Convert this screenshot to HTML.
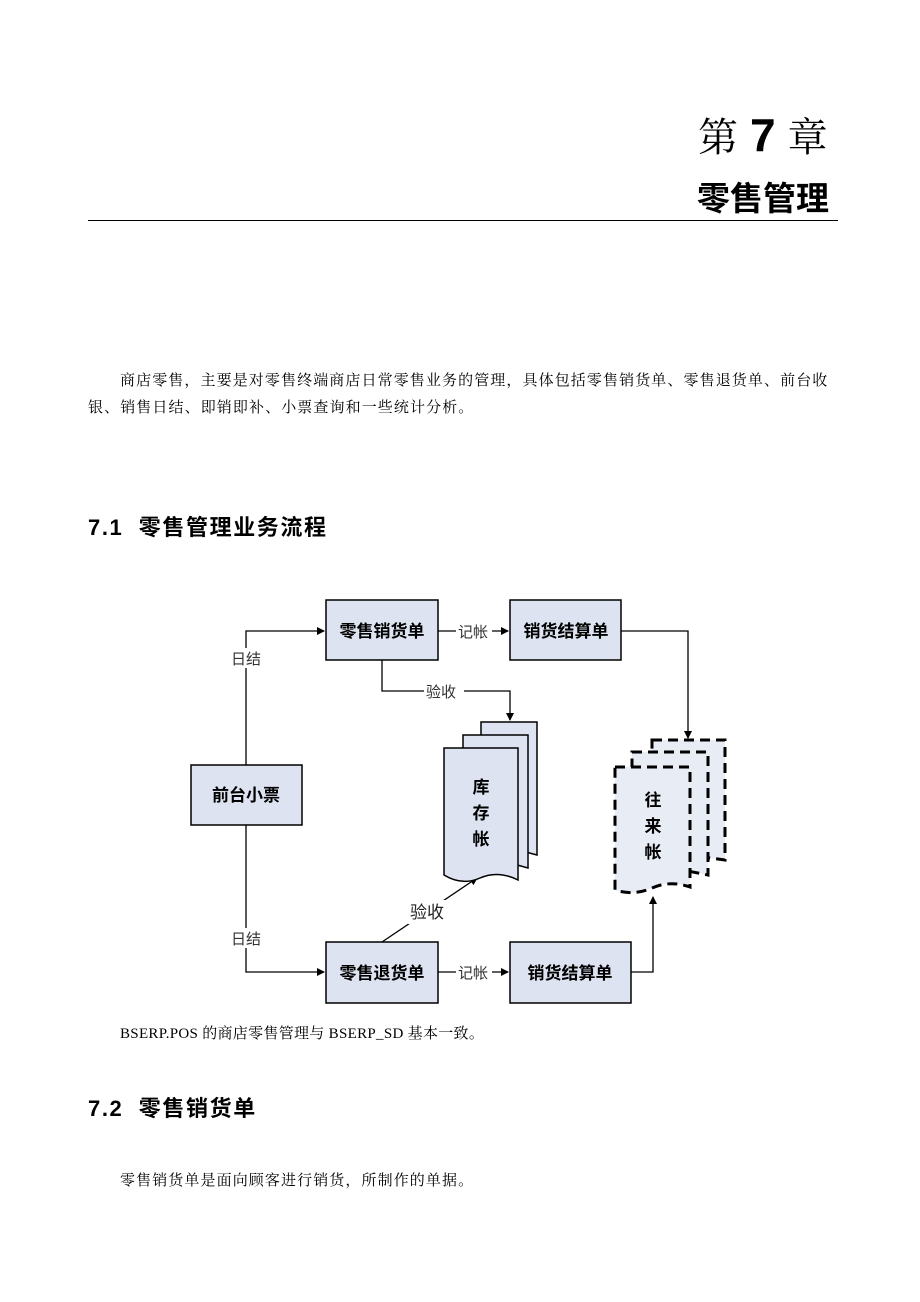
<!DOCTYPE html>
<html><head><meta charset="utf-8"><style>
body{margin:0;background:#fff;width:920px;height:1302px;position:relative;font-family:"Liberation Serif","Noto Serif CJK SC","Noto Sans CJK SC",serif;color:#000}
.a{position:absolute;white-space:nowrap}
.p{font-size:15px;letter-spacing:1.1px}
.h{font-family:"Liberation Sans","Noto Sans CJK SC",sans-serif;font-size:22px;font-weight:bold;letter-spacing:1.6px}
</style></head><body>
<div class="a" style="left:698px;top:106px;font-size:40px;font-family:'Liberation Serif','Noto Serif CJK SC',serif;letter-spacing:1px">第 <b style="font-family:'Liberation Sans',sans-serif;font-size:46px">7</b> 章</div>
<div class="a" style="left:697px;top:172px;font-size:33px;font-weight:bold;font-family:'Liberation Sans','Noto Sans CJK SC',sans-serif">零售管理</div>
<div class="a" style="left:88px;top:220px;width:750px;height:1px;background:#000"></div>
<div class="a p" style="left:120px;top:369px">商店零售，主要是对零售终端商店日常零售业务的管理，具体包括零售销货单、零售退货单、前台收</div>
<div class="a p" style="left:88px;top:396px">银、销售日结、即销即补、小票查询和一些统计分析。</div>
<div class="a h" style="left:88px;top:510px">7.1&nbsp; 零售管理业务流程</div>
<svg class="a" style="left:0;top:0" width="920" height="1302" font-family="'Liberation Sans','Noto Sans CJK SC',sans-serif">
<defs><marker id="ar" markerWidth="8" markerHeight="8" refX="7" refY="4" orient="auto" markerUnits="userSpaceOnUse"><path d="M0,0L8,4L0,8z"/></marker></defs>
<g stroke="#000" stroke-width="1.3" fill="none">
<path d="M246,765V631H324" marker-end="url(#ar)"/>
<path d="M246,825V972H324" marker-end="url(#ar)"/>
<path d="M438,631H508" marker-end="url(#ar)"/>
<path d="M438,972H508" marker-end="url(#ar)"/>
<path d="M621,631H688V738" marker-end="url(#ar)"/>
<path d="M382,660V691H510V720" marker-end="url(#ar)"/>
<path d="M631,972H653V897" marker-end="url(#ar)"/>
<path d="M382,942L477,878" marker-end="url(#ar)"/>
</g>
<g fill="#fff">
<rect x="230" y="648" width="34" height="20"/><rect x="230" y="928" width="34" height="20"/>
<rect x="456" y="622" width="36" height="18"/><rect x="456" y="963" width="36" height="18"/>
<rect x="424" y="682" width="40" height="18"/><rect x="408" y="900" width="44" height="24"/>
</g>
<g font-size="15" fill="#333">
<text x="231" y="664">日结</text><text x="231" y="944">日结</text>
<text x="458" y="637">记帐</text><text x="458" y="978">记帐</text>
<text x="426" y="697">验收</text>
</g>
<text x="410" y="918" font-size="17" fill="#222">验收</text>
<g fill="#dde3f0" stroke="#000" stroke-width="1.5">
<rect x="326" y="600" width="112" height="60"/>
<rect x="510" y="600" width="111" height="60"/>
<rect x="191" y="765" width="111" height="60"/>
<rect x="326" y="942" width="112" height="61"/>
<rect x="510" y="942" width="121" height="61"/>
<path d="M481,722H537V855L481,840z"/>
<path d="M463,735H528V868L463,850z"/>
<path d="M444,748H518V880Q498,870 480,878T444,875z"/>
</g>
<g fill="#e8ecf5" stroke="#000" stroke-width="3" stroke-dasharray="10,6">
<path d="M652,740H725V860L652,850z"/>
<path d="M632,752H708V875L632,860z"/>
<path d="M615,767H690V887Q670,880 652,888T615,890z"/>
</g>
<g font-size="17" font-weight="bold" text-anchor="middle">
<text x="382" y="637">零售销货单</text><text x="566" y="637">销货结算单</text>
<text x="246" y="801">前台小票</text><text x="382" y="979">零售退货单</text><text x="570" y="979">销货结算单</text>
<text x="481" y="793">库</text><text x="481" y="819">存</text><text x="481" y="845">帐</text>
<text x="653" y="806">往</text><text x="653" y="832">来</text><text x="653" y="858">帐</text>
</g>
</svg>
<div class="a p" style="left:120px;top:1022px;letter-spacing:0.3px">BSERP.POS 的商店零售管理与 BSERP_SD 基本一致。</div>
<div class="a h" style="left:88px;top:1091px">7.2&nbsp; 零售销货单</div>
<div class="a p" style="left:120px;top:1169px">零售销货单是面向顾客进行销货，所制作的单据。</div>
</body></html>
